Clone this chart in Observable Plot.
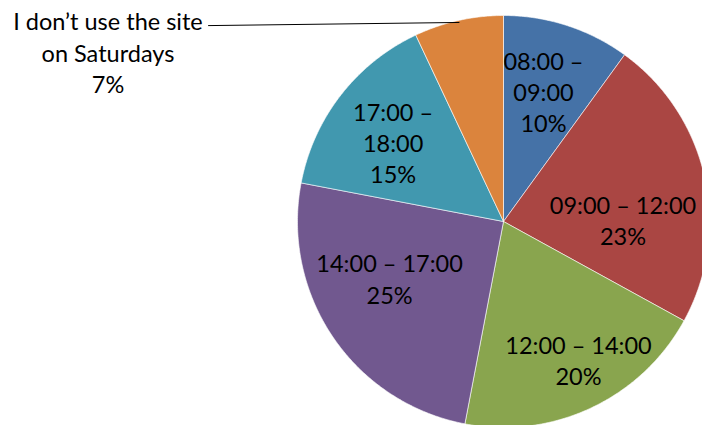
<!DOCTYPE html>
<html><head><meta charset="utf-8">
<script src="https://cdn.jsdelivr.net/npm/d3@7"></script>
<script src="https://cdn.jsdelivr.net/npm/@observablehq/plot@0.6"></script>
<style>body{margin:0;background:#fff}</style>
</head><body><div id="chart"></div>
<script>
// ---- data ----
const categories = ["08:00 – 09:00", "09:00 – 12:00", "12:00 – 14:00", "14:00 – 17:00", "17:00 – 18:00", "I don’t use the site on Saturdays"];
const values = [10, 23, 20, 25, 15, 7];
const labelTexts = ["08:00 –\n09:00", "09:00 – 12:00", "12:00 – 14:00", "14:00 – 17:00", "17:00 –\n18:00", "I don’t use the site\non Saturdays"];
const colors = ["#4572A7", "#AA4643", "#89A54E", "#71588F", "#4198AF", "#DB843D"];
// ---- layout (label centres, in units of the pie radius) ----
const labelX = [0.194, 0.580, 0.364, -0.553, -0.536, -1.920];
const labelY = [0.634, 0.010, -0.670, -0.274, 0.386, 0.825];
const leaderStart = {x: -1.432, y: 0.951};
const leaderRadius = 0.99;

const W = 702, H = 425, R = 206, CX = 503, CY = 221;

const total = d3.sum(values);
let acc = 0;
const slices = values.map((v, i) => {
  const a0 = acc / total * 2 * Math.PI;
  acc += v;
  const a1 = acc / total * 2 * Math.PI;
  return {cat: categories[i], a0, a1, v, i};
});
const poly = [];
for (const s of slices) {
  const n = Math.max(2, Math.ceil((s.a1 - s.a0) / (Math.PI / 360)));
  poly.push({cat: s.cat, x: 0, y: 0});
  for (let k = 0; k <= n; k++) {
    const a = s.a0 + (s.a1 - s.a0) * k / n;
    poly.push({cat: s.cat, x: Math.sin(a), y: Math.cos(a)});
  }
  poly.push({cat: s.cat, x: 0, y: 0});
}
const labels = slices.map((s, i) => ({cat: s.cat, x: labelX[i], y: labelY[i], text: labelTexts[i] + "\n" + values[i] + "%"}));
const last = slices[slices.length - 1];
const mid = (last.a0 + last.a1) / 2;
const leader = [leaderStart, {x: leaderRadius * Math.sin(mid), y: leaderRadius * Math.cos(mid)}];

const chart = Plot.plot({
  width: W, height: H,
  margin: 0,
  x: {domain: [-CX / R, (W - CX) / R], axis: null},
  y: {domain: [-(H - CY) / R, CY / R], axis: null},
  color: {domain: categories, range: colors},
  style: {background: "#fff", fontFamily: "Lato, sans-serif"},
  marks: [
    Plot.line(poly, {x: "x", y: "y", z: "cat", fill: "cat", stroke: "#fff", strokeWidth: 0.6, curve: "linear"}),
    Plot.line(leader, {x: "x", y: "y", stroke: "#000", strokeWidth: 1}),
    Plot.text(labels, {x: "x", y: "y", text: "text", fill: "#000", fontSize: 23.5, lineHeight: 1.33, lineAnchor: "middle", textAnchor: "middle"})
  ]
});
document.getElementById("chart").appendChild(chart);
</script>
</body></html>
